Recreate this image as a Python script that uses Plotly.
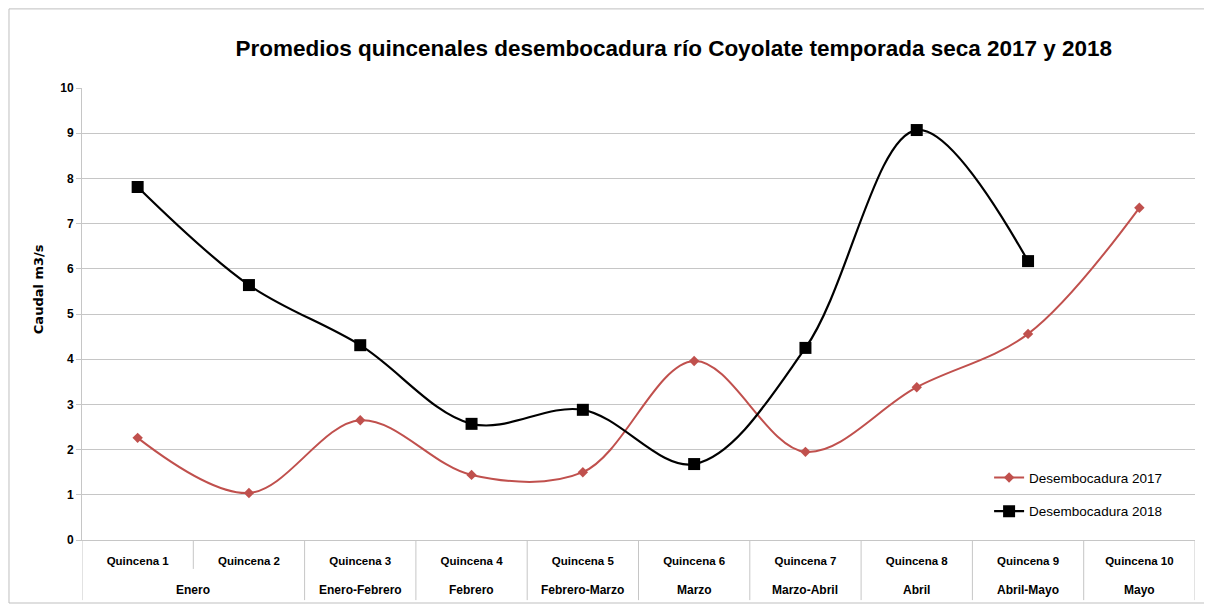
import plotly.graph_objects as go

meses = ["Enero", "Enero", "Enero-Febrero", "Febrero", "Febrero-Marzo",
         "Marzo", "Marzo-Abril", "Abril", "Abril-Mayo", "Mayo"]
quincenas = ["Quincena 1", "Quincena 2", "Quincena 3", "Quincena 4", "Quincena 5",
             "Quincena 6", "Quincena 7", "Quincena 8", "Quincena 9", "Quincena 10"]
caudal_2017 = [2.26, 1.04, 2.65, 1.44, 1.50, 3.96, 1.95, 3.38, 4.56, 7.35]
caudal_2018 = [7.81, 5.64, 4.31, 2.57, 2.88, 1.68, 4.25, 9.07, 6.17, None]

font_family = "Liberation Sans, Arial, sans-serif"
grid = "#C6C6C6"

fig = go.Figure()
fig.add_trace(go.Scatter(
    x=quincenas, y=caudal_2017, name="Desembocadura 2017", legendgroup="a",
    mode="lines+markers", line=dict(color="#C0504D", width=2, shape="spline", smoothing=1.0),
    marker=dict(symbol="diamond", size=8, color="#C0504D"),
))
fig.add_trace(go.Scatter(
    x=quincenas, y=caudal_2018, name="Desembocadura 2018", legendgroup="b",
    mode="lines+markers", line=dict(color="#000000", width=2.2, shape="spline", smoothing=1.0),
    marker=dict(symbol="square", size=12, color="#000000"),
))

fig.update_layout(
    width=1204, height=600,
    paper_bgcolor="white", plot_bgcolor="white",
    margin=dict(l=74, r=17, t=80, b=68, autoexpand=False),
    title=dict(text="<b>Promedios quincenales desembocadura río Coyolate temporada seca 2017 y 2018</b>",
               x=0.553, xanchor="center", y=0.933, yanchor="middle",
               font=dict(family=font_family, size=22.5, color="#000000")),
    font=dict(family=font_family, color="#000000"),
    legend=dict(x=0.815, y=0.10, xanchor="left", yanchor="middle",
                bgcolor="rgba(0,0,0,0)", font=dict(size=13.5, family=font_family),
                tracegroupgap=13, itemwidth=30),
    showlegend=True,
)
fig.update_yaxes(
    range=[0, 10], dtick=1, showgrid=True, gridcolor=grid, gridwidth=1,
    zeroline=False, showline=True, linecolor=grid,
    ticks="outside", ticklen=5, tickcolor=grid,
    tickfont=dict(size=12, family=font_family), tickprefix="<b>", ticksuffix="</b>",
    automargin=False,
)
fig.update_xaxes(
    type="category", categoryorder="array", categoryarray=quincenas,
    range=[-0.5, len(quincenas) - 0.5],
    showgrid=False, showline=True, linecolor=grid, ticks="",
    tickfont=dict(size=11.5, family=font_family), tickprefix="<b>", ticksuffix="</b>",
    ticklabelstandoff=10, automargin=False,
)

# y-axis title
fig.add_annotation(text="<b>Caudal m3/s</b>", xref="paper", yref="paper",
                   x=-0.0395, y=0.555, xanchor="center", yanchor="middle",
                   textangle=-90, showarrow=False,
                   font=dict(size=13, family="DejaVu Sans, sans-serif", color="#000000"))

# month row labels and dividers (grouping consecutive equal months)
row1_bottom = -0.064
row2_bottom = -0.133
groups = []
start = 0
for i in range(1, len(meses) + 1):
    if i == len(meses) or meses[i] != meses[start]:
        groups.append((meses[start], start, i - 1))
        start = i
for name, a, b in groups:
    fig.add_annotation(text="<b>" + name + "</b>", xref="x", yref="paper",
                       x=(a + b) / 2, y=-0.111, xanchor="center", yanchor="middle",
                       showarrow=False, font=dict(size=12, family=font_family, color="#000000"))
boundaries = set()
for name, a, b in groups:
    boundaries.add(a - 0.5)
    boundaries.add(b + 0.5)
for k in range(len(quincenas) + 1):
    xb = k - 0.5
    y1 = row2_bottom if xb in boundaries else row1_bottom
    fig.add_shape(type="line", xref="x", yref="paper", x0=xb, x1=xb, y0=0, y1=y1,
                  line=dict(color=grid, width=1))

# outer chart border
fig.add_shape(type="rect", xref="paper", yref="paper",
              x0=-0.0656, x1=1.0117, y0=-0.1394, y1=1.175,
              line=dict(color="#BFBFBF", width=1))

fig.write_html("out.html")
